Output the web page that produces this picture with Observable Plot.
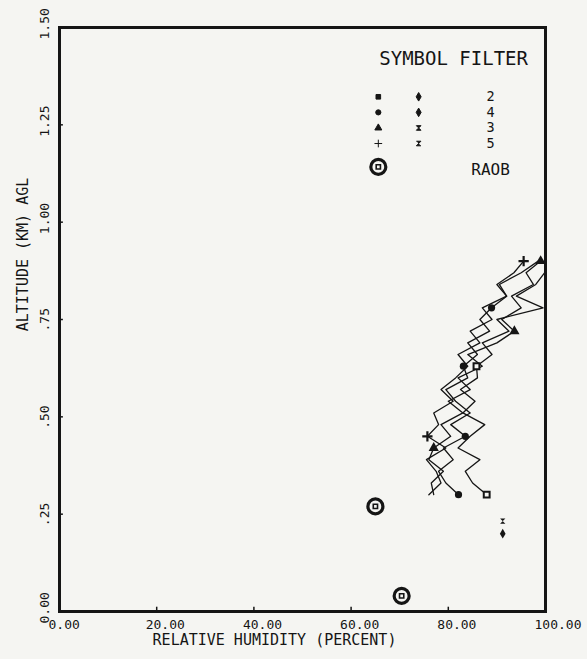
<!DOCTYPE html>
<html><head><meta charset="utf-8">
<script src="https://cdn.jsdelivr.net/npm/d3@7"></script>
<script src="https://cdn.jsdelivr.net/npm/@observablehq/plot@0.6"></script>
<style>
html,body{margin:0;padding:0;background:#f5f5f2;}
#chart svg{display:block}
</style></head><body><div id="chart"></div>
<script>
// ---- data ----
const xTicks = [0, 20, 40, 60, 80, 100];
const xTickLabels = ["0.00", "20.00", "40.00", "60.00", "80.00", "100.00"];
const yTicks = [0, 0.25, 0.5, 0.75, 1.0, 1.25, 1.5];
const yTickLabels = ["0.00", ".25", ".50", ".75", "1.00", "1.25", "1.50"];
const xTitle = "RELATIVE HUMIDITY (PERCENT)";
const yTitle = "ALTITUDE (KM) AGL";
const legendTitle = "SYMBOL FILTER";
const legendFilters = ["2", "4", "3", "5"];
const raobLabel = "RAOB";

// filter 2 (square)
const alt2 = [0.30,0.33,0.36,0.39,0.42,0.45,0.48,0.51,0.54,0.57,0.60,0.63,0.66,0.69,0.72,0.75,0.78,0.81,0.84,0.87];
const rh2  = [87.9,85.0,83.5,86.5,82.0,84.5,87.5,83.0,85.5,82.5,86.0,85.8,89.0,87.0,92.5,90.0,99.5,94.0,98.0,99.8];
const mark2 = [0, 11];
// filter 4 (circle)
const alt4 = [0.30,0.33,0.36,0.39,0.42,0.45,0.48,0.51,0.54,0.57,0.60,0.63,0.66,0.69,0.72,0.75,0.78,0.81,0.84,0.87,0.90];
const rh4  = [82.1,79.5,78.0,81.0,79.0,83.5,80.5,84.5,81.5,79.5,84.0,83.1,86.0,84.0,88.5,86.5,88.9,92.0,90.5,95.0,98.5];
const mark4 = [0, 5, 11, 16];
// filter 3 (triangle)
const alt3 = [0.30,0.33,0.36,0.39,0.42,0.45,0.48,0.51,0.54,0.57,0.60,0.63,0.66,0.69,0.72,0.75,0.78,0.81,0.84,0.87,0.90];
const rh3  = [77.0,76.5,79.0,76.0,77.0,80.5,78.5,83.0,80.0,84.5,82.0,87.0,84.0,90.0,93.6,91.0,95.0,93.0,97.5,96.0,99.0];
const mark3 = [4, 14, 20];
// filter 5 (plus)
const alt5 = [0.30,0.33,0.36,0.39,0.42,0.45,0.48,0.51,0.54,0.57,0.60,0.63,0.66,0.69,0.72,0.75,0.78,0.81,0.84,0.87,0.90];
const rh5  = [76.0,78.5,77.5,75.5,79.5,75.7,78.0,77.0,81.0,78.5,81.5,84.0,82.0,86.5,84.5,89.0,87.0,92.0,90.0,93.5,95.5];
const mark5 = [5, 20];

// single points (second symbol column)
const single3 = {rh: 91.2, alt: 0.232};
const single2 = {rh: 91.2, alt: 0.20};
// RAOB
const raobRH  = [65.0, 70.4];
const raobAlt = [0.27, 0.04];

// ---- build tables ----
const ink = "#151515";
const bg = "#f5f5f2";
const toPts = (rh, alt) => rh.map((v, i) => ({rh: v, alt: alt[i]}));
const s2 = toPts(rh2, alt2), s4 = toPts(rh4, alt4), s3 = toPts(rh3, alt3), s5 = toPts(rh5, alt5);
const pick = (s, idx) => idx.map(i => s[i]);
const raob = toPts(raobRH, raobAlt);

const hourglass = {draw(ctx, size) { const r = Math.sqrt(size) / 2; ctx.moveTo(-r, -r); ctx.lineTo(r, -r); ctx.lineTo(-r, r); ctx.lineTo(r, r); ctx.closePath(); }};
const zed = {draw(ctx, size) { const r = Math.sqrt(size) / 2; ctx.moveTo(-r, -r); ctx.lineTo(r, -r); ctx.lineTo(-r, r); ctx.lineTo(r, r); }};

// legend layout (data units)
const lgCol1 = 65.6, lgCol2 = 73.9, lgNum = 88.7, lgTop = 1.322, lgStep = 0.040;
const lgRows = legendFilters.map((f, i) => ({f, rh1: lgCol1, rh2: lgCol2, rhN: lgNum, alt: lgTop - i * lgStep}));
const col1Sym = ["square", "circle", "triangle", "plus"];
const col2Sym = ["diamond", "diamond", hourglass, zed];

const tickLabelX = d => xTickLabels[xTicks.indexOf(d)];
const tickLabelY = d => yTickLabels[yTicks.findIndex(t => Math.abs(t - d) < 1e-9)];

const lineOpt = {x: "rh", y: "alt", stroke: ink, strokeWidth: 1.3, strokeLinejoin: "round"};

const marks = [
  Plot.axisX({ticks: xTicks, tickFormat: tickLabelX, tickSize: 0, textAnchor: "start", dx: -11, dy: -1, fontSize: 13, label: null}),
  Plot.axisY({ticks: yTicks, tickFormat: tickLabelY, tickSize: 0, rotate: -90, textAnchor: "start", dx: -6, dy: 12, fontSize: 13, label: null}),
  Plot.ruleX(xTicks.slice(1, -1), {y1: 0, y2: 0.011, stroke: ink, strokeWidth: 1.5}),
  Plot.ruleY(yTicks.slice(1, -1), {x1: 0, x2: 0.8, stroke: ink, strokeWidth: 1.5}),
  Plot.line(s2, lineOpt),
  Plot.line(s4, lineOpt),
  Plot.line(s3, lineOpt),
  Plot.line(s5, lineOpt),
  Plot.dot(pick(s2, mark2), {x: "rh", y: "alt", symbol: "square", r: 3.3, stroke: ink, strokeWidth: 2, fill: bg}),
  Plot.dot(pick(s4, mark4), {x: "rh", y: "alt", symbol: "circle", r: 3.6, fill: ink}),
  Plot.dot(pick(s3, mark3), {x: "rh", y: "alt", symbol: "triangle", r: 3.8, fill: ink}),
  Plot.dot(pick(s5, mark5), {x: "rh", y: "alt", symbol: "plus", r: 3.4, stroke: ink, strokeWidth: 2.2}),
  Plot.dot([single3], {x: "rh", y: "alt", symbol: hourglass, r: 3, fill: ink}),
  Plot.dot([single2], {x: "rh", y: "alt", symbol: "diamond", r: 3, fill: ink}),
  // RAOB
  Plot.dot(raob, {x: "rh", y: "alt", r: 7.5, stroke: ink, strokeWidth: 3.2, fill: "none"}),
  Plot.dot(raob, {x: "rh", y: "alt", symbol: "square", r: 2.4, stroke: ink, strokeWidth: 1.6, fill: "none"}),
  // frame
  Plot.frame({stroke: ink, strokeWidth: 3}),
  // legend
  Plot.text([legendTitle], {x: () => 81.1, y: () => 1.42, fontSize: 19, fill: ink}),
  Plot.dot(lgRows, {x: "rh1", y: "alt", symbol: (d, i) => col1Sym[i], r: 2.6, fill: ink, stroke: ink, strokeWidth: 1}),
  Plot.dot(lgRows, {x: "rh2", y: "alt", symbol: (d, i) => col2Sym[i], r: 2.6, fill: ink, stroke: ink, strokeWidth: 1}),
  Plot.text(lgRows, {x: "rhN", y: "alt", text: "f", fontSize: 13.5, fill: ink}),
  Plot.dot([{rh: lgCol1, alt: lgTop - 4 * lgStep - 0.02}], {x: "rh", y: "alt", r: 7.5, stroke: ink, strokeWidth: 3.2, fill: "none"}),
  Plot.dot([{rh: lgCol1, alt: lgTop - 4 * lgStep - 0.02}], {x: "rh", y: "alt", symbol: "square", r: 2.4, stroke: ink, strokeWidth: 1.6, fill: "none"}),
  Plot.text([raobLabel], {x: () => lgNum, y: () => lgTop - 4 * lgStep - 0.028, fontSize: 16, fill: ink}),
  // axis titles
  Plot.text([xTitle], {frameAnchor: "bottom", dx: -28, dy: 33, fontSize: 15, fill: ink}),
  Plot.text([yTitle], {frameAnchor: "left", textAnchor: "middle", rotate: -90, dx: -36, dy: -65, fontSize: 15, fill: ink})
];

const chart = Plot.plot({
  width: 587,
  height: 659,
  marginLeft: 59,
  marginRight: 42,
  marginTop: 27,
  marginBottom: 48,
  x: {domain: [0, 100], type: "linear"},
  y: {domain: [0, 1.5], type: "linear"},
  symbol: {type: "identity"},
  style: {fontFamily: "'DejaVu Sans Mono', monospace", fontSize: "13px", background: bg, color: ink, overflow: "visible"},
  marks
});
document.getElementById("chart").appendChild(chart);
</script></body></html>
